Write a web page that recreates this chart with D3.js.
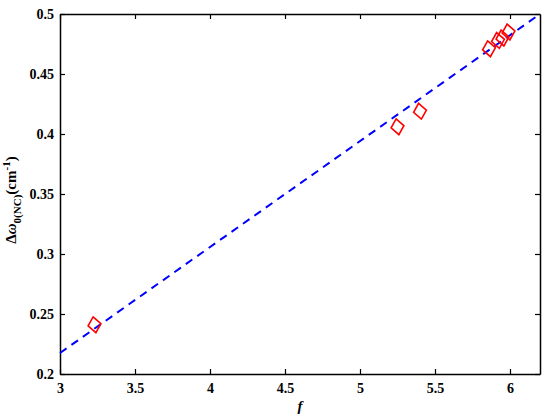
<!DOCTYPE html>
<html>
<head>
<meta charset="utf-8">
<script src="https://cdn.jsdelivr.net/npm/d3@7"></script>
<style>
  body { margin: 0; background: #fff; }
  text { font-family: "Liberation Serif", "Times New Roman", serif; font-weight: bold; }
</style>
</head>
<body>
<script>
// measured points and the fitted line
const fValues = [3.23, 5.25, 5.40, 5.86, 5.92, 5.95, 5.99];
const shiftValues = [0.241, 0.406, 0.419, 0.471, 0.478, 0.480, 0.485];
const fitX = [3, 6.2];
const fitY = [0.2175, 0.5];
const xTicks = [3, 3.5, 4, 4.5, 5, 5.5, 6];
const yTicks = [0.2, 0.25, 0.3, 0.35, 0.4, 0.45, 0.5];

const width = 480;
const height = 360;
const margin = { left: 60, right: 10, top: 14, bottom: 46 };

const svg = d3.select('body').append('svg')
  .attr('width', 550)
  .attr('height', 420)
  .append('g')
  .attr('transform', `translate(${margin.left}, ${margin.top})`);

const xScale = d3.scaleLinear().domain([3, 6.2]).range([0, width]);
const yScale = d3.scaleLinear().domain([0.2, 0.5]).range([height, 0]);

function styleAxis(g) {
  g.select('.domain').attr('stroke', '#000').attr('stroke-width', 1.5);
  g.selectAll('.tick line').attr('stroke', '#000').attr('stroke-width', 1.2);
  g.selectAll('.tick text').attr('fill', '#000').attr('font-size', 14);
}

// bottom + left axes (ticks pointing in)
svg.append('g')
  .attr('transform', `translate(0, ${height})`)
  .call(d3.axisBottom(xScale).tickValues(xTicks).tickFormat(d3.format('')).tickSizeInner(-5).tickSizeOuter(0).tickPadding(9))
  .call(styleAxis);

svg.append('g')
  .call(d3.axisLeft(yScale).tickValues(yTicks).tickFormat(d3.format('')).tickSizeInner(-5).tickSizeOuter(0).tickPadding(6))
  .call(styleAxis);

// top + right axes, no labels
svg.append('g')
  .call(d3.axisTop(xScale).tickValues(xTicks).tickFormat('').tickSizeInner(-5).tickSizeOuter(0))
  .call(styleAxis);

svg.append('g')
  .attr('transform', `translate(${width}, 0)`)
  .call(d3.axisRight(yScale).tickValues(yTicks).tickFormat('').tickSizeInner(-5).tickSizeOuter(0))
  .call(styleAxis);

// fitted line
const fitData = fitX.map((x, i) => ({ x: x, y: fitY[i] }));
svg.append('path')
  .datum(fitData)
  .attr('fill', 'none')
  .attr('stroke', '#0000ff')
  .attr('stroke-width', 2)
  .attr('stroke-dasharray', '8,6')
  .attr('d', d3.line().x(d => xScale(d.x)).y(d => yScale(d.y)));

// diamonds
const pts = fValues.map((f, i) => ({ f: f, v: shiftValues[i] }));
svg.selectAll('.pt')
  .data(pts)
  .enter()
  .append('path')
  .attr('class', 'pt')
  .attr('transform', d => `translate(${xScale(d.f)}, ${yScale(d.v)}) rotate(-10)`)
  .attr('d', 'M0,-8L6.5,0L0,8L-6.5,0Z')
  .attr('fill', 'none')
  .attr('stroke', '#ff0000')
  .attr('stroke-width', 1.6);

// x label
svg.append('text')
  .attr('x', width / 2)
  .attr('y', height + 37)
  .attr('text-anchor', 'middle')
  .attr('font-size', 15)
  .attr('font-style', 'italic')
  .text('f');

// y label
const yLabel = svg.append('text')
  .attr('transform', `translate(-44, ${height / 2 + 6}) rotate(-90)`)
  .attr('text-anchor', 'middle')
  .attr('font-size', 15);
yLabel.append('tspan').text('Δ');
yLabel.append('tspan').attr('font-style', 'italic').text('ω');
yLabel.append('tspan').attr('font-size', 11).attr('dy', 5).text('0(NC)');
yLabel.append('tspan').attr('dy', -5).text('(cm');
yLabel.append('tspan').attr('font-size', 11).attr('dy', -6).text('-1');
yLabel.append('tspan').attr('dy', 6).text(')');
</script>
</body>
</html>
